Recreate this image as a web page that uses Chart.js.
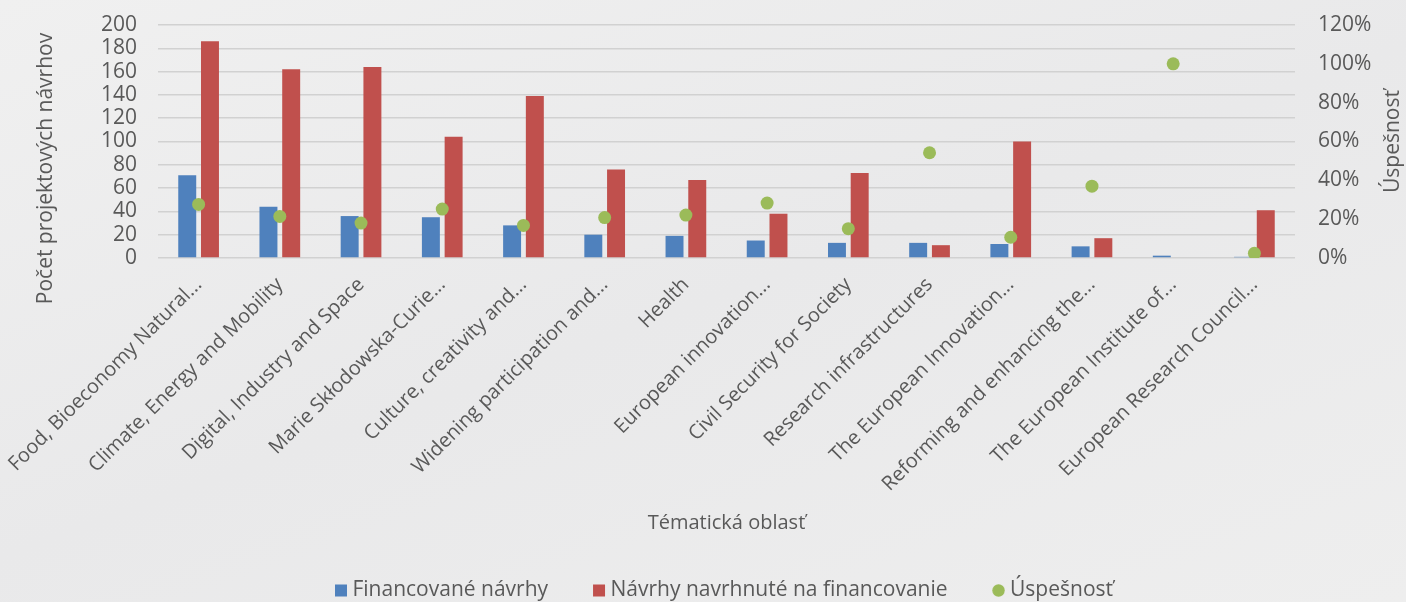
<!DOCTYPE html>
<html>
<head>
<meta charset="utf-8">
<script src="https://cdn.jsdelivr.net/npm/chart.js@4.4.1/dist/chart.umd.min.js"></script>
<style>
  html, body { margin: 0; padding: 0; background: #ebebeb; }
  #wrap { width: 1406px; height: 602px; background: linear-gradient(160deg, #f0f0f0 0%, #e9e9ea 50%, #eeeeee 100%); }
</style>
</head>
<body>
<div id="wrap"><canvas id="c" width="1406" height="602"></canvas></div>
<script>
const categories = [
  "Food, Bioeconomy Natural...",
  "Climate, Energy and Mobility",
  "Digital, Industry and Space",
  "Marie Skłodowska-Curie...",
  "Culture, creativity and...",
  "Widening participation and...",
  "Health",
  "European innovation...",
  "Civil Security for Society",
  "Research infrastructures",
  "The European Innovation...",
  "Reforming and enhancing the...",
  "The European Institute of...",
  "European Research Council..."
];
const fundedProposals = [71, 44, 36, 35, 28, 20, 19, 15, 13, 13, 12, 10, 2, 1];
const proposedForFunding = [186, 162, 164, 104, 139, 76, 67, 38, 73, 11, 100, 17, 0, 41];
const successRate = [0.276, 0.214, 0.18, 0.252, 0.168, 0.208, 0.221, 0.283, 0.151, 0.542, 0.107, 0.37, 1.0, 0.024];
const leftTicks = [0, 20, 40, 60, 80, 100, 120, 140, 160, 180, 200];
const rightTicks = [0, 0.2, 0.4, 0.6, 0.8, 1.0, 1.2];

const TXT = '#595959';
const FONT = '"Open Sans", sans-serif';
const GREEN = '#9bbb59';
const CLEAR = 'rgba(0,0,0,0)';

// small circle image used as the legend marker of the success series
const legendDot = document.createElement('canvas');
legendDot.width = 13; legendDot.height = 13;
(function () {
  const g = legendDot.getContext('2d');
  g.fillStyle = GREEN;
  g.beginPath(); g.arc(6.5, 6.5, 6.2, 0, Math.PI * 2); g.fill();
})();

function drawVerticalTitle(ctx, text, x, y, size) {
  ctx.save();
  ctx.translate(x, y);
  ctx.rotate(-Math.PI / 2);
  ctx.font = size + 'px ' + FONT;
  ctx.fillStyle = TXT;
  ctx.textAlign = 'center';
  ctx.textBaseline = 'middle';
  ctx.fillText(text, 0, 0);
  ctx.restore();
}

const titlesPlugin = {
  id: 'axisTitles',
  afterLayout(chart) {
    if (chart.legend) chart.legend.left = 47;
  },
  afterDraw(chart) {
    const ca = chart.chartArea;
    const mid = (ca.top + ca.bottom) / 2;
    drawVerticalTitle(chart.ctx, 'Počet projektových návrhov', chart.scales.y.left + 46, mid + 27, 21);
    drawVerticalTitle(chart.ctx, 'Úspešnosť', chart.scales.y1.right - 13, mid, 21);
  }
};

new Chart(document.getElementById('c'), {
  data: {
    labels: categories,
    datasets: [
      { type: 'bar', label: 'Financované návrhy', data: fundedProposals, backgroundColor: '#4f81bd',
        yAxisID: 'y', order: 1, pointStyle: 'rect', categoryPercentage: 0.56, barPercentage: 0.79 },
      { type: 'bar', label: 'Návrhy navrhnuté na financovanie', data: proposedForFunding, backgroundColor: '#c0504d',
        yAxisID: 'y', order: 1, pointStyle: 'rect', categoryPercentage: 0.56, barPercentage: 0.79 },
      { type: 'line', label: 'Úspešnosť', data: successRate, showLine: false, yAxisID: 'y1', order: 0,
        pointStyle: 'circle', pointRadius: 6.5, pointHoverRadius: 6.5, backgroundColor: GREEN, borderColor: GREEN, borderWidth: 0 }
    ]
  },
  options: {
    responsive: false,
    devicePixelRatio: 1,
    animation: false,
    layout: { padding: { top: 25, left: 0, right: 0, bottom: -9 } },
    plugins: {
      tooltip: { enabled: false },
      legend: {
        position: 'bottom',
        labels: {
          usePointStyle: true, boxWidth: 2, boxHeight: 12, padding: 50,
          color: TXT, font: { family: FONT, size: 21 },
          sort: (a, b) => a.datasetIndex - b.datasetIndex,
          generateLabels(chart) {
            const items = Chart.defaults.plugins.legend.labels.generateLabels(chart);
            items.forEach(it => { if (it.datasetIndex === 2) it.pointStyle = legendDot; });
            return items;
          }
        }
      }
    },
    scales: {
      x: {
        grid: { display: false, drawTicks: false },
        border: { display: false },
        ticks: { color: TXT, font: { family: FONT, size: 20 }, maxRotation: 45, minRotation: 45, autoSkip: false, padding: 15 },
        title: { display: true, text: 'Tématická oblasť', color: TXT, font: { family: FONT, size: 20 }, padding: { top: 0, bottom: -5 } },
        afterFit(s) { s.height = 272; s.paddingLeft = 0; s.paddingRight = 0; }
      },
      y: {
        position: 'left', min: 0, max: 200,
        afterBuildTicks(s) { s.ticks = leftTicks.map(v => ({ value: v })); },
        grid: { color: '#d1d1d1', lineWidth: 1.5, drawTicks: true, tickLength: 21, tickColor: CLEAR },
        border: { display: false },
        ticks: { color: TXT, font: { family: FONT, size: 21 }, padding: 0, autoSkip: false },
        afterFit(s) { s.width = 158; }
      },
      y1: {
        position: 'right', min: 0, max: 1.2,
        afterBuildTicks(s) { s.ticks = rightTicks.map(v => ({ value: v })); },
        grid: { display: true, drawOnChartArea: false, color: CLEAR, drawTicks: true, tickLength: 23, tickColor: CLEAR },
        border: { display: false },
        ticks: { color: TXT, font: { family: FONT, size: 21 }, padding: 0, autoSkip: false,
          callback: v => Math.round(v * 100) + '%' },
        afterFit(s) { s.width = 111; }
      }
    }
  },
  plugins: [titlesPlugin]
});
</script>
</body>
</html>
